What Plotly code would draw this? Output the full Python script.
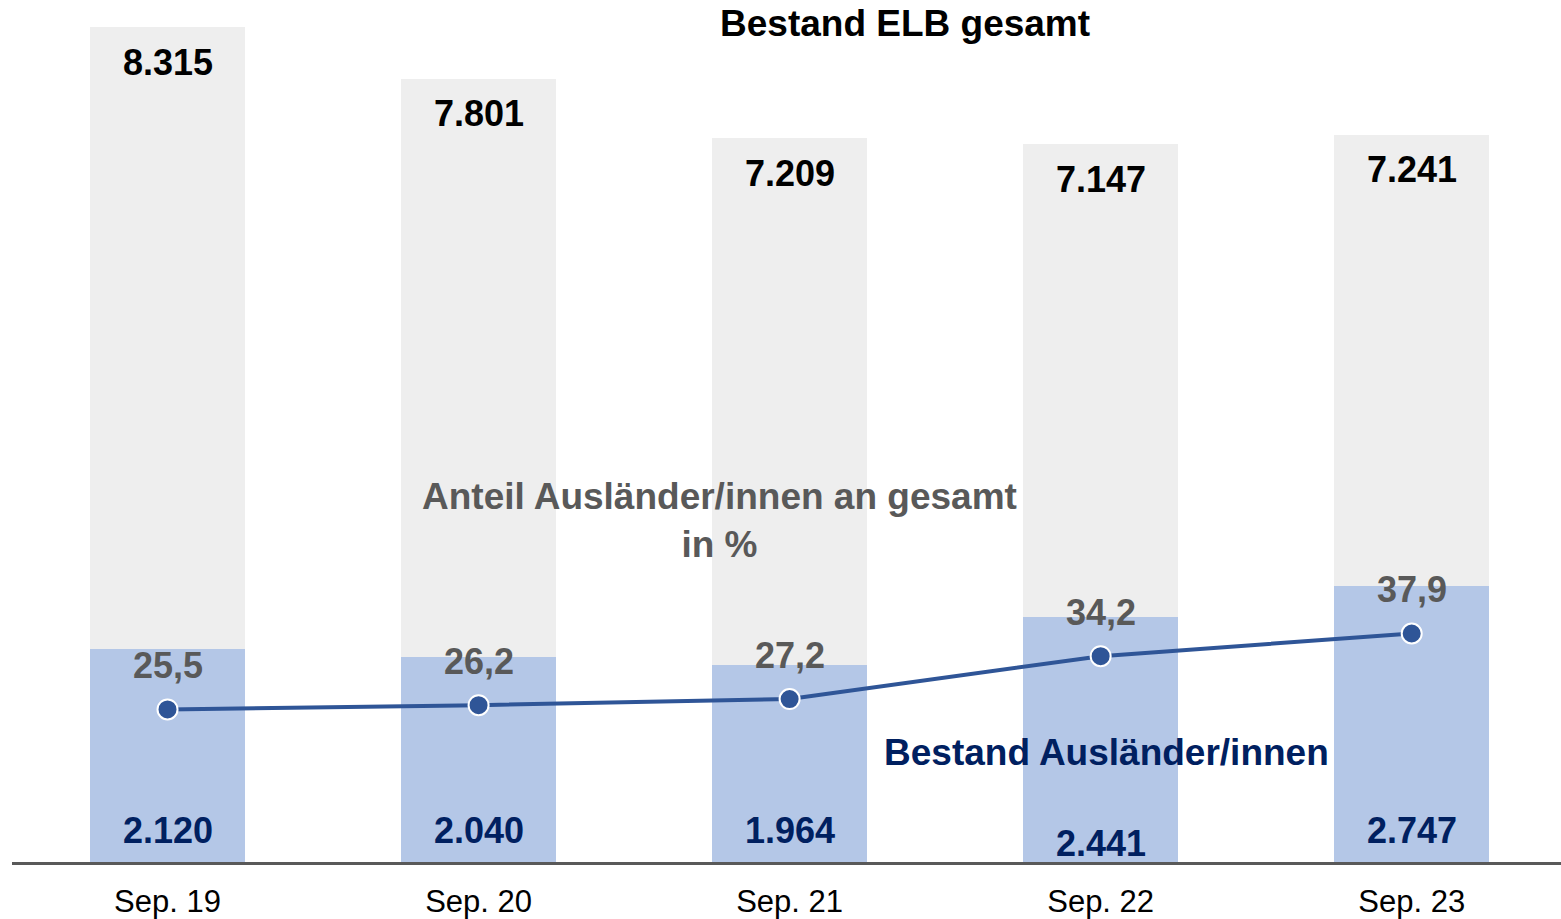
import plotly.graph_objects as go

categories = ["Sep. 19", "Sep. 20", "Sep. 21", "Sep. 22", "Sep. 23"]
total = [8315, 7801, 7209, 7147, 7241]
foreign = [2120, 2040, 1964, 2441, 2747]
share_pct = [25.5, 26.2, 27.2, 34.2, 37.9]

def de_int(v):
    return f"{v:,}".replace(",", ".")

def de_dec(v):
    return f"{v:.1f}".replace(".", ",")

FONT = "Liberation Sans, Arial, sans-serif"
GREY_BAR = "#EEEEEE"
BLUE_BAR = "#B4C7E7"
LINE = "#2F5597"
NAVY = "#002060"
GREY_TXT = "#595959"

x = list(range(len(categories)))
bottom_shift = [32, 32, 32, 19, 32]

fig = go.Figure()
fig.add_trace(go.Bar(x=x, y=total, width=0.5, marker=dict(color=GREY_BAR, line=dict(width=0)),
                     hoverinfo="skip", showlegend=False))
fig.add_trace(go.Bar(x=x, y=foreign, width=0.5, marker=dict(color=BLUE_BAR, line=dict(width=0)),
                     hoverinfo="skip", showlegend=False))
fig.add_trace(go.Scatter(x=x, y=share_pct, yaxis="y2", mode="lines+markers",
                         line=dict(color=LINE, width=4),
                         marker=dict(size=20, color=LINE, line=dict(color="white", width=2)),
                         showlegend=False, hoverinfo="skip"))

ann = []
for i, c in enumerate(categories):
    ann.append(dict(x=i, y=total[i], xref="x", yref="y", text=f"<b>{de_int(total[i])}</b>",
                    showarrow=False, yanchor="middle", yshift=-35,
                    font=dict(family=FONT, size=36, color="black")))
    ann.append(dict(x=i, y=0, xref="x", yref="y", text=f"<b>{de_int(foreign[i])}</b>",
                    showarrow=False, yanchor="middle", yshift=bottom_shift[i],
                    font=dict(family=FONT, size=36, color=NAVY)))
    ann.append(dict(x=i, y=share_pct[i], xref="x", yref="y2", text=f"<b>{de_dec(share_pct[i])}</b>",
                    showarrow=False, yanchor="middle", yshift=44,
                    font=dict(family=FONT, size=36, color=GREY_TXT)))

ann.append(dict(x=2.371, y=8350, xref="x", yref="y", text="<b>Bestand ELB gesamt</b>",
                showarrow=False, font=dict(family=FONT, size=37, color="black")))
ann.append(dict(x=1.776, y=3400, xref="x", yref="y", text="<b>Anteil Ausländer/innen an gesamt<br>in %</b>",
                showarrow=False, align="center", font=dict(family=FONT, size=37, color=GREY_TXT)))
ann.append(dict(x=3.02, y=1090, xref="x", yref="y", text="<b>Bestand Ausländer/innen</b>",
                showarrow=False, font=dict(family=FONT, size=37, color=NAVY)))

fig.update_layout(
    annotations=ann,
    width=1561, height=919,
    margin=dict(l=12, r=0, t=5, b=57),
    paper_bgcolor="white", plot_bgcolor="white",
    barmode="overlay", bargap=0,
    xaxis=dict(range=[-0.5, 4.48], tickmode="array", tickvals=x, ticktext=categories,
               showgrid=False, zeroline=False, showline=True, linecolor="#595959", linewidth=3,
               ticks="outside", ticklen=10, tickcolor="rgba(0,0,0,0)",
               tickfont=dict(family=FONT, size=31, color="black"), fixedrange=True),
    yaxis=dict(range=[0, 8535], visible=False, showgrid=False, zeroline=False, fixedrange=True),
    yaxis2=dict(range=[0.6, 140.5], overlaying="y", visible=False, showgrid=False, zeroline=False,
                fixedrange=True),
)

fig.write_html("out.html", config={"displayModeBar": False},
               post_script="document.body.style.margin='0';document.body.style.overflow='hidden';")
